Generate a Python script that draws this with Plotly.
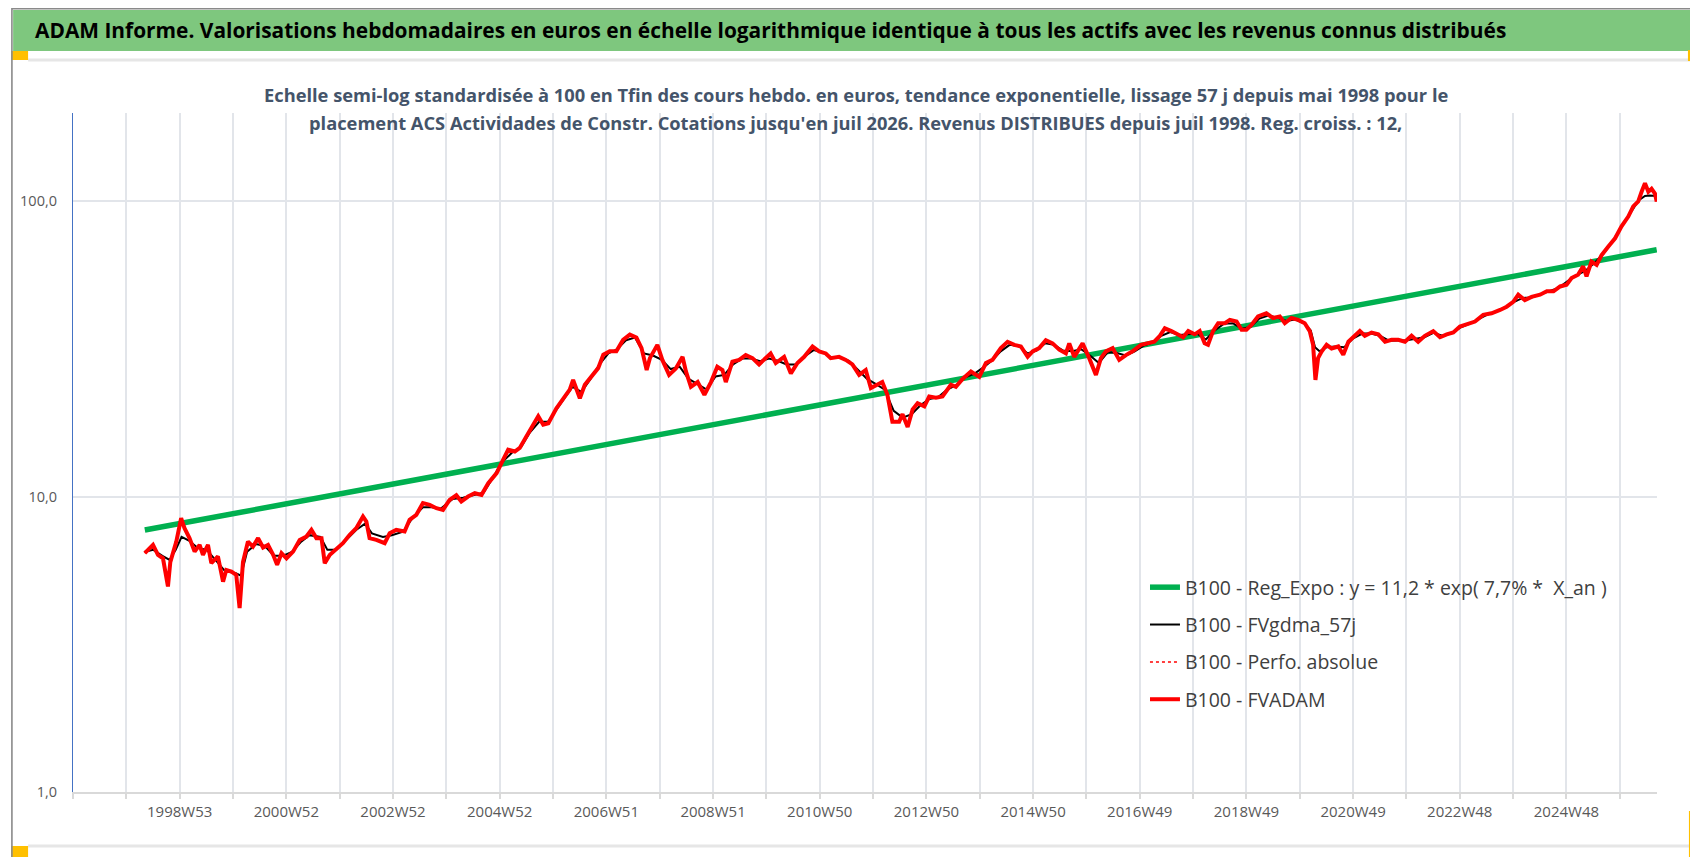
import datetime as dt
import plotly.graph_objects as go

# ---------------- data ----------------
fvadam_dates = [
    "1998-05-04","1998-06-29","1998-08-02","1998-09-05","1998-10-09","1998-10-25","1998-12-05",
    "1999-01-07","1999-01-30","1999-03-05","1999-04-09","1999-05-13","1999-06-05","1999-07-09",
    "1999-08-01","1999-09-15","1999-10-20","1999-11-11","1999-12-16","2000-01-18","2000-02-10",
    "2000-03-04","2000-04-07","2000-05-11","2000-06-15","2000-07-19","2000-08-22","2000-09-26",
    "2000-10-23","2000-11-22","2000-12-26","2001-02-09","2001-03-26","2001-05-11","2001-06-14",
    "2001-07-18","2001-08-22","2001-09-13","2001-10-18","2001-12-02","2002-01-15","2002-03-01",
    "2002-04-16","2002-06-01","2002-06-24","2002-07-16","2002-08-31","2002-10-27","2002-11-30",
    "2003-01-14","2003-03-12","2003-04-15","2003-05-31","2003-07-15","2003-08-30","2003-10-15",
    "2003-11-29","2004-01-13","2004-02-28","2004-04-02","2004-05-18","2004-07-03","2004-08-18",
    "2004-10-03","2004-11-29","2005-01-12","2005-02-16","2005-04-02","2005-05-06","2005-06-21",
    "2005-08-06","2005-09-09","2005-10-13","2005-11-17","2006-01-11","2006-02-25","2006-04-12",
    "2006-05-05","2006-06-20","2006-07-24","2006-09-08","2006-10-23","2006-11-27","2007-01-10",
    "2007-02-24","2007-04-11","2007-05-27","2007-07-11","2007-08-15","2007-09-19","2007-10-11",
    "2007-12-01","2008-01-04","2008-02-19","2008-04-05","2008-05-21","2008-06-13","2008-07-17",
    "2008-09-01","2008-10-17","2008-12-01","2009-01-13","2009-02-17","2009-03-12","2009-04-26",
    "2009-06-11","2009-07-26","2009-09-10","2009-10-25","2009-11-29","2010-01-12","2010-02-16",
    "2010-04-14","2010-05-30","2010-07-14","2010-08-29","2010-10-25","2010-12-09","2011-01-23",
    "2011-02-26","2011-04-24","2011-06-09","2011-07-24","2011-09-08","2011-10-23","2011-11-27",
    "2012-01-10","2012-02-13","2012-03-19","2012-04-22","2012-06-07","2012-06-30","2012-08-04",
    "2012-09-07","2012-10-11","2012-11-26","2012-12-29","2013-02-13","2013-03-30","2013-05-26",
    "2013-06-29","2013-08-14","2013-10-10","2013-12-06","2014-01-20","2014-03-06","2014-05-02",
    "2014-06-17","2014-08-02","2014-09-16","2014-11-01","2014-12-05","2015-01-19","2015-03-05",
    "2015-04-20","2015-06-05","2015-07-20","2015-08-12","2015-09-15","2015-11-11","2015-12-26",
    "2016-02-10","2016-03-15","2016-04-18","2016-06-03","2016-07-18","2016-09-02","2016-10-17",
    "2016-12-13","2017-01-28","2017-03-14","2017-04-18","2017-05-25","2017-07-09","2017-08-24",
    "2017-09-27","2017-11-01","2017-12-15","2018-01-18","2018-02-21","2018-03-16","2018-04-19",
    "2018-05-24","2018-07-09","2018-08-12","2018-09-27","2018-10-31","2018-12-03","2019-01-06",
    "2019-02-20","2019-04-18","2019-06-03","2019-07-19","2019-08-22","2019-10-06","2019-11-21",
    "2020-01-05","2020-02-08","2020-03-02","2020-03-18","2020-04-05","2020-04-28","2020-06-02",
    "2020-07-06","2020-08-21","2020-09-24","2020-10-29","2020-12-01","2021-01-15","2021-02-18",
    "2021-04-05","2021-05-21","2021-07-06","2021-08-20","2021-10-04","2021-11-19","2022-01-03",
    "2022-02-17","2022-04-04","2022-05-31","2022-07-16","2022-08-31","2022-10-15","2022-11-29",
    "2023-01-25","2023-03-12","2023-05-07","2023-07-03","2023-08-30","2023-10-14","2023-11-28",
    "2024-01-01","2024-02-15","2024-04-01","2024-05-29","2024-07-14","2024-08-29","2024-10-13",
    "2024-11-26","2024-12-30","2025-02-12","2025-03-19","2025-04-11","2025-05-15","2025-06-19",
    "2025-07-23","2025-09-07","2025-10-23","2025-12-06","2026-01-21","2026-02-24","2026-03-30",
    "2026-04-22","2026-05-15","2026-06-07","2026-06-29","2026-07-22","2026-08-03",
]
fvadam_values = [
    6.43,6.86,6.35,6.18,4.96,6.00,7.04,
    8.45,7.81,7.23,6.51,6.86,6.35,6.86,
    5.95,6.27,5.15,5.64,5.57,5.43,4.19,
    6.00,7.04,6.77,7.23,6.72,6.86,6.35,
    5.87,6.43,6.18,6.51,7.13,7.32,7.71,
    7.23,7.23,5.95,6.35,6.67,6.95,7.41,
    7.81,8.56,8.23,7.23,7.13,6.95,7.51,
    7.71,7.61,8.34,8.67,9.50,9.37,9.13,
    9.01,9.74,10.1,9.62,10.0,10.26,10.13,
    11.1,12.0,13.3,14.4,14.2,14.6,16.0,
    17.5,18.7,17.5,17.7,19.9,21.5,23.0,
    24.8,21.5,23.9,25.5,27.2,30.2,31.0,
    31.0,33.9,35.3,34.5,31.8,26.8,29.4,
    32.6,29.0,25.8,27.1,29.7,26.5,23.5,
    24.4,22.1,24.4,27.5,26.8,24.4,28.6,
    29.0,30.1,29.4,28.0,29.0,30.5,28.3,
    29.7,26.1,28.3,29.7,32.2,31.0,30.5,
    29.4,29.7,29.0,28.0,25.8,26.8,23.3,
    23.9,24.4,22.1,17.9,17.9,19.0,17.2,
    19.7,20.7,20.2,21.8,21.6,21.8,23.9,
    23.5,25.0,26.5,25.4,28.3,29.0,31.8,
    33.4,32.6,32.2,29.7,31.0,31.8,33.8,
    33.0,31.4,30.5,33.0,29.7,33.0,29.4,
    25.8,29.4,31.0,31.8,29.0,30.1,31.0,
    32.6,33.0,33.4,34.8,37.1,36.3,35.4,
    34.6,36.3,35.4,36.3,33.0,32.6,36.3,
    38.6,38.6,39.6,39.1,36.7,36.7,38.1,
    40.7,41.7,40.2,40.7,38.6,40.2,39.6,
    38.6,36.3,32.6,24.8,29.4,30.9,32.6,
    31.7,32.2,30.2,33.4,34.6,36.3,35.0,
    35.9,35.4,33.4,33.9,33.9,33.4,35.0,
    33.4,35.0,36.3,34.6,35.4,35.9,37.6,
    38.6,39.1,41.2,41.7,42.8,43.9,45.6,
    48.2,46.2,47.4,48.2,49.5,49.5,51.4,
    52.1,54.9,56.3,60.1,55.6,62.4,60.8,
    65.6,70.2,74.8,82.1,88.6,95.9,99.7,
    107.5,115.0,107.5,110.0,106.0,99.7,
]

perfo_dates = fvadam_dates
perfo_values = fvadam_values

gdma_dates = [
    "1998-05-04","1998-07-01","1998-09-01","1998-10-20","1998-12-01","1999-01-10","1999-03-01",
    "1999-05-01","1999-07-01","1999-09-01","1999-11-01","2000-01-15","2000-02-20","2000-04-01",
    "2000-06-01","2000-08-01","2000-10-01","2000-12-01","2001-02-01","2001-04-01","2001-06-01",
    "2001-08-15","2001-10-01","2001-12-01","2002-02-01","2002-04-15","2002-06-15","2002-08-01",
    "2002-10-15","2002-12-15","2003-03-01","2003-05-01","2003-07-15","2003-09-15","2003-11-15",
    "2004-02-01","2004-04-15","2004-07-01","2004-09-01","2004-11-01","2005-01-01","2005-03-15",
    "2005-05-15","2005-07-15","2005-09-15","2005-11-15","2006-01-15","2006-03-15","2006-05-01",
    "2006-07-01","2006-09-01","2006-11-01","2007-01-01","2007-03-01","2007-05-01","2007-07-01",
    "2007-09-01","2007-11-01","2008-01-01","2008-03-01","2008-05-01","2008-07-01","2008-09-01",
    "2008-11-01","2009-01-01","2009-03-01","2009-05-01","2009-07-01","2009-09-01","2009-11-01",
    "2010-01-01","2010-03-01","2010-05-01","2010-07-01","2010-09-01","2010-11-01","2011-01-01",
    "2011-03-01","2011-05-01","2011-07-01","2011-09-01","2011-11-01","2012-01-01","2012-03-01",
    "2012-05-01","2012-07-01","2012-09-01","2012-11-01","2013-01-01","2013-03-01","2013-05-01",
    "2013-07-01","2013-09-01","2013-11-01","2014-01-01","2014-03-01","2014-05-01","2014-07-01",
    "2014-09-01","2014-11-01","2015-01-01","2015-03-01","2015-05-01","2015-07-01","2015-09-01",
    "2015-11-01","2016-01-01","2016-03-01","2016-05-01","2016-07-01","2016-09-01","2016-11-01",
    "2017-01-01","2017-03-01","2017-05-01","2017-07-01","2017-09-01","2017-11-01","2018-01-01",
    "2018-03-01","2018-05-01","2018-07-01","2018-09-01","2018-11-01","2019-01-01","2019-03-01",
    "2019-05-01","2019-07-01","2019-09-01","2019-11-01","2020-01-01","2020-02-15","2020-03-15",
    "2020-04-15","2020-06-01","2020-08-01","2020-10-01","2020-12-01","2021-02-01","2021-04-01",
    "2021-06-01","2021-08-01","2021-10-01","2021-12-01","2022-02-01","2022-04-01","2022-06-01",
    "2022-08-01","2022-10-01","2022-12-01","2023-02-01","2023-04-01","2023-06-01","2023-08-01",
    "2023-10-01","2023-12-01","2024-02-01","2024-04-01","2024-06-01","2024-08-01","2024-10-01",
    "2024-12-01","2025-02-01","2025-04-01","2025-06-01","2025-08-01","2025-10-01","2025-12-01",
    "2026-02-01","2026-04-01","2026-05-15","2026-06-15","2026-08-03",
]
gdma_values = [
    6.5,6.6,6.3,6.1,6.6,7.3,7.1,
    6.7,6.6,6.1,5.6,5.5,5.4,6.5,
    6.9,6.8,6.3,6.3,6.5,7.0,7.4,
    7.3,6.6,6.6,7.1,7.7,8.1,7.5,
    7.3,7.4,7.6,8.4,9.2,9.2,9.1,
    9.8,9.9,10.1,10.3,11.5,13.0,14.1,
    14.7,16.5,17.9,17.9,19.7,21.8,23.5,
    22.6,25.0,28.0,30.5,31.5,33.8,34.5,
    30.5,30.0,29.0,27.0,27.5,25.0,24.0,
    23.0,25.5,25.8,28.0,29.3,29.3,28.7,
    29.3,28.8,28.0,28.0,29.8,31.3,30.8,
    29.6,29.5,28.8,26.8,25.0,24.0,23.0,
    19.5,18.5,19.0,20.4,21.4,21.7,23.0,
    23.8,25.3,26.0,27.3,28.8,31.0,32.6,
    32.3,30.5,31.2,33.0,32.6,31.2,31.0,
    31.5,30.0,28.3,30.8,30.6,30.0,31.0,
    32.4,33.2,35.0,36.0,35.2,35.5,35.6,
    34.0,36.5,38.4,38.6,37.0,37.5,40.0,
    41.0,40.3,39.3,39.7,38.6,36.5,32.0,
    31.0,32.0,32.2,32.0,34.3,35.6,35.6,
    35.0,33.7,33.8,33.8,34.2,34.6,35.8,
    35.0,35.6,37.3,38.4,39.7,41.2,42.2,
    43.6,45.5,47.0,47.2,48.3,49.4,50.8,
    53.5,56.0,58.0,61.5,66.0,72.5,81.0,
    90.0,100.5,104.0,104.5,104.0,
]

reg_dates = ["1998-05-04", "2026-08-03"]
reg_values = [7.7, 68.4]

x_tick_labels = ["1998W53","2000W52","2002W52","2004W52","2006W51","2008W51","2010W50",
                 "2012W50","2014W50","2016W49","2018W49","2020W49","2022W48","2024W48"]

series_names = [
    "B100 - Reg_Expo : y = 11,2 * exp( 7,7% *  X_an )",
    "B100 - FVgdma_57j",
    "B100 - Perfo. absolue",
    "B100 - FVADAM",
]

title_text = ("ADAM Informe. Valorisations hebdomadaires en euros en échelle logarithmique "
              "identique à tous les actifs avec les revenus connus distribués")
subtitle_1 = ("Echelle semi-log standardisée à 100 en Tfin des cours hebdo. en euros, tendance "
              "exponentielle, lissage 57 j depuis mai 1998 pour le")
subtitle_2 = ("placement ACS Actividades de Constr. Cotations jusqu'en juil 2026. Revenus "
              "DISTRIBUES depuis juil 1998. Reg. croiss. : 12,")

# ---------------- layout helpers ----------------
W, H = 1698, 857
ML, MR, MT, MB = 62, 49, 105, 73
PW, PH = W - ML - MR, H - MT - MB


def px(x):
    return (x - ML) / PW


def py(y):
    return (H - MB - y) / PH


def iso(label):
    y, w = label.split("W")
    return dt.date.fromisocalendar(int(y), int(w), 1)


label_dates = [iso(l) for l in x_tick_labels]
week52 = dt.timedelta(weeks=52)
tickvals, ticktext = [], []
d = label_dates[0] - 2 * week52
lab_map = {ld: l for ld, l in zip(label_dates, x_tick_labels)}
while d <= label_dates[-1] + week52:
    tickvals.append(d.isoformat())
    ticktext.append(lab_map.get(d, ""))
    d += week52

FONT = "Open Sans, sans-serif"

fig = go.Figure()
fig.add_trace(go.Scatter(x=reg_dates, y=reg_values, mode="lines", name=series_names[0],
                         line=dict(color="#00B050", width=5.5), legendgroup="a"))
fig.add_trace(go.Scatter(x=gdma_dates, y=gdma_values, mode="lines", name=series_names[1],
                         line=dict(color="#000000", width=2), legendgroup="b"))
fig.add_trace(go.Scatter(x=perfo_dates, y=perfo_values, mode="lines", name=series_names[2],
                         line=dict(color="#FF0000", width=1.5, dash="dot"), legendgroup="c"))
fig.add_trace(go.Scatter(x=fvadam_dates, y=fvadam_values, mode="lines", name=series_names[3],
                         line=dict(color="#FF0000", width=4), legendgroup="d"))

shapes = [
    # title band
    dict(type="rect", xref="paper", yref="paper", x0=px(2), x1=px(1695), y0=py(43), y1=py(2),
         fillcolor="#7EC77E", line=dict(width=0), layer="below"),
    # light frame lines
    dict(type="line", xref="paper", yref="paper", x0=px(17), x1=px(1691), y0=py(52), y1=py(52),
         line=dict(color="#E6E6E6", width=3)),
    dict(type="line", xref="paper", yref="paper", x0=px(17), x1=px(1691), y0=py(838), y1=py(838),
         line=dict(color="#E6E6E6", width=3)),
    dict(type="line", xref="paper", yref="paper", x0=px(1691), x1=px(1691), y0=py(52), y1=py(838),
         line=dict(color="#E6E6E6", width=3)),
    # orange handles
    dict(type="rect", xref="paper", yref="paper", x0=px(0), x1=px(17), y0=py(52), y1=py(43),
         fillcolor="#FFC000", line=dict(width=0)),
    dict(type="rect", xref="paper", yref="paper", x0=px(1680), x1=px(1695), y0=py(53), y1=py(42),
         fillcolor="#FFC000", line=dict(width=0)),
    dict(type="rect", xref="paper", yref="paper", x0=px(0), x1=px(17), y0=py(850), y1=py(838),
         fillcolor="#FFC000", line=dict(width=0)),
    dict(type="rect", xref="paper", yref="paper", x0=px(1681), x1=px(1695), y0=py(850), y1=py(803),
         fillcolor="#FFC000", line=dict(width=0)),
    # outer border
    dict(type="rect", xref="paper", yref="paper", x0=px(0.8), x1=px(1697.2), y0=py(856.2), y1=py(0.8),
         line=dict(color="#8A8A8A", width=1.6)),
]

annotations = [
    dict(text=f"<b>{subtitle_1}</b>", xref="paper", yref="paper", x=px(846), y=py(86),
         xanchor="center", yanchor="middle", showarrow=False,
         font=dict(family=FONT, size=18.3, color="#44546A")),
    dict(text=f"<b>{subtitle_2}</b>", xref="paper", yref="paper", x=px(846), y=py(115),
         xanchor="center", yanchor="middle", showarrow=False,
         font=dict(family=FONT, size=18.3, color="#44546A")),
]

fig.update_layout(
    width=W, height=H,
    margin=dict(l=ML, r=MR, t=MT, b=MB),
    paper_bgcolor="white", plot_bgcolor="white",
    separators=", ",
    title=dict(text=f"<b>{title_text}</b>", x=27 / W, xanchor="left", xref="container",
               y=1 - 23 / H, yanchor="middle", yref="container",
               font=dict(family=FONT, size=20.9, color="#000000")),
    showlegend=True,
    legend=dict(x=px(1136), y=py(560), xanchor="left", yanchor="top",
                bgcolor="rgba(0,0,0,0)", tracegroupgap=9,
                font=dict(family=FONT, size=19.5, color="#404040")),
    shapes=shapes,
    annotations=annotations,
    xaxis=dict(type="date", range=["1996-12-30", "2026-08-05"],
               tickmode="array", tickvals=tickvals, ticktext=ticktext,
               showgrid=True, gridcolor="#E2E5EA", gridwidth=1.5,
               showline=True, linecolor="#D9D9D9", linewidth=1.5,
               ticks="outside", ticklen=5, tickcolor="#D9D9D9", tickwidth=1.5,
               tickfont=dict(family=FONT, size=15, color="#595959"),
               zeroline=False),
    yaxis=dict(type="log", range=[0, 2.298], dtick=1, tickformat=".1f",
               showgrid=True, gridcolor="#E2E5EA", gridwidth=1.5,
               showline=True, linecolor="#4472C4", linewidth=1.2,
               ticks="", ticklabelstandoff=12,
               tickfont=dict(family=FONT, size=14.5, color="#595959"),
               zeroline=False),
)

fig.write_html("out.html")
